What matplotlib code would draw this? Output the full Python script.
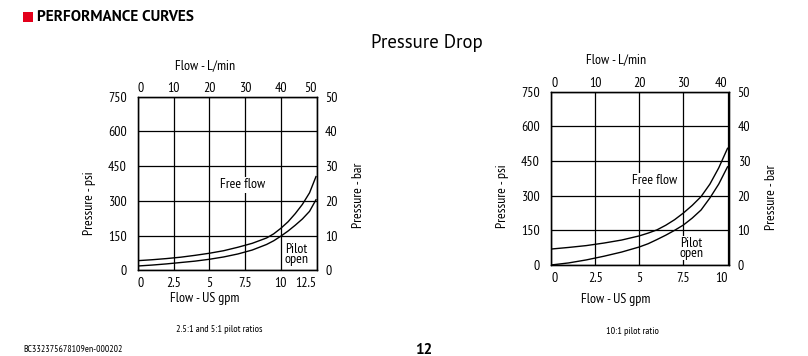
import matplotlib
matplotlib.use('Agg')
import matplotlib.pyplot as plt
from matplotlib.patches import Rectangle

plt.rcParams['font.family'] = ['PT Sans Narrow', 'DejaVu Sans']

# left chart: 2.5:1 and 5:1 pilot ratios
gpm_a = [0, 1, 2, 3, 4, 5, 6, 7, 8, 9, 9.5, 10, 10.5, 11, 11.5, 12, 12.45]
free_a = [42, 46, 51, 57, 65, 74, 85, 100, 117, 140, 158, 182, 210, 245, 285, 335, 405]
pilot_a = [19, 23, 28, 34, 40, 48, 58, 71, 88, 112, 128, 148, 170, 195, 222, 255, 305]

# right chart: 10:1 pilot ratio
gpm_b = [0, 1, 2, 3, 4, 5, 5.5, 6, 6.5, 7, 7.5, 8, 8.5, 9, 9.5, 10]
free_b = [69, 76, 84, 95, 108, 126, 138, 152, 172, 196, 225, 258, 296, 350, 420, 505]
pilot_b = [0, 9, 22, 38, 56, 78, 92, 110, 129, 150, 173, 203, 238, 290, 350, 425]

psi_ticks = [0, 150, 300, 450, 600, 750]
bar_labels = ['0', '10', '20', '30', '40', '50']
gpm_ticks_a = [0, 2.5, 5, 7.5, 10, 12.5]
gpm_labels_a = ['0', '2.5', '5', '7.5', '10', '12.5']
lmin_labels_a = ['0', '10', '20', '30', '40', '50']
gpm_ticks_b = [0, 2.5, 5, 7.5, 10]
gpm_labels_b = ['0', '2.5', '5', '7.5', '10']
lmin_labels_b = ['0', '10', '20', '30', '40']

W, H = 808, 356
fig = plt.figure(figsize=(W / 100, H / 100), dpi=100)

def px_rect(x0, y0, x1, y1):
	# pixel box (top-left origin) -> figure fraction
	return [x0 / W, 1 - y1 / H, (x1 - x0) / W, (y1 - y0) / H]

def edge_align(labels):
	labels[0].set_horizontalalignment('left')
	labels[-1].set_horizontalalignment('right')

def draw_chart(rect, gpm, free, pilot, xmax, xticks, xlabels, toplabels,
		free_pos, pilot_pos, lab_x, psi_x, bar_x, top_y, bot_y, psi_y, bar_y):
	ax = fig.add_axes(rect)
	ax.plot(gpm, free, color='black', lw=1.0)
	ax.plot(gpm, pilot, color='black', lw=1.0)
	ax.set_xlim(0, xmax)
	ax.set_ylim(0, 750)
	ax.set_xticks(xticks)
	ax.set_xticklabels(xlabels)
	ax.set_yticks(psi_ticks)
	ax.grid(True, color='black', lw=0.9)
	ax.tick_params(length=0, labelsize=10, pad=5)
	ax.tick_params(axis='y', pad=8)
	edge_align(ax.get_xticklabels())
	for s in ax.spines.values():
		s.set_linewidth(1.0)
	ax.set_xlabel('Flow - US gpm', fontsize=10)
	ax.xaxis.set_label_coords(lab_x, bot_y)
	ax.set_ylabel('Pressure - psi', fontsize=10)
	ax.yaxis.set_label_coords(psi_x, psi_y)
	ax.text(free_pos[0], free_pos[1], 'Free flow', fontsize=10, ha='center', va='center',
		bbox=dict(facecolor='white', edgecolor='none', pad=1.0), zorder=5)
	ax.text(pilot_pos[0], pilot_pos[1], 'Pilot\nopen', fontsize=10, ha='center', va='center',
		linespacing=0.7, bbox=dict(facecolor='white', edgecolor='none', pad=0.5), zorder=5)

	top = ax.twiny()
	top.set_xlim(0, xmax)
	top.set_xticks(xticks[:len(toplabels)])
	top.set_xticklabels(toplabels)
	top.tick_params(length=0, labelsize=10, pad=1.5)
	edge_align(top.get_xticklabels())
	top.set_xlabel('Flow - L/min', fontsize=10)
	top.xaxis.set_label_coords(lab_x, top_y)

	right = ax.twinx()
	right.set_ylim(0, 750)
	right.set_yticks(psi_ticks)
	right.set_yticklabels(bar_labels)
	right.tick_params(length=0, labelsize=10, pad=6)
	right.set_ylabel('Pressure - bar', fontsize=10)
	right.yaxis.set_label_coords(bar_x, bar_y)
	return ax

draw_chart(px_rect(137.7, 96.7, 316.7, 270.4), gpm_a, free_a, pilot_a, 12.5,
	gpm_ticks_a, gpm_labels_a, lmin_labels_a, (7.3, 369), (11.06, 67),
	0.376, -0.233, 1.197, 1.157, -0.124, 0.39, 0.43)
draw_chart(px_rect(551, 91.7, 729.3, 265), gpm_b, free_b, pilot_b, 10.1,
	gpm_ticks_b, gpm_labels_b, lmin_labels_b, (5.85, 364), (7.95, 73),
	0.365, -0.236, 1.20, 1.166, -0.162, 0.40, 0.39)

# page decorations
fig.patches.append(Rectangle((23 / W, 1 - 22 / H), 10 / W, 10 / H, transform=fig.transFigure,
	facecolor='#e3001b', edgecolor='none'))
fig.text(37 / W, 1 - 17 / H, 'PERFORMANCE CURVES', fontsize=11, fontweight='bold',
	family=['PT Sans', 'DejaVu Sans'], va='center', ha='left')
fig.text(427 / W, 1 - 43 / H, 'Pressure Drop', fontsize=13.5, ha='center', va='center',
	family=['PT Sans', 'DejaVu Sans'])
fig.text(219 / W, 1 - 330 / H, '2.5:1 and 5:1 pilot ratios', fontsize=7.3, ha='center', va='center')
fig.text(632 / W, 1 - 331 / H, '10:1 pilot ratio', fontsize=7.3, ha='center', va='center')
fig.text(23 / W, 1 - 350 / H, 'BC332375678109en-000202', fontsize=7, ha='left', va='center')
fig.text(424 / W, 1 - 350 / H, '12', fontsize=11, fontweight='bold', ha='center', va='center',
	family=['PT Sans', 'DejaVu Sans'])

fig.savefig('out.png', dpi=100)
